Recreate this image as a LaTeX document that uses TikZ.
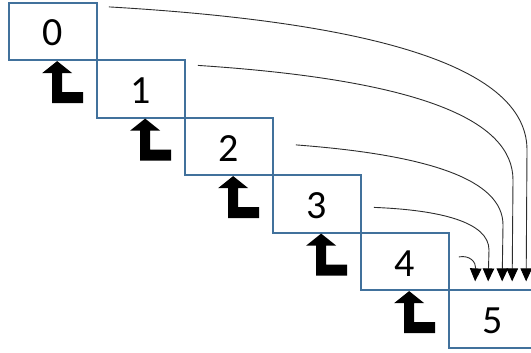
\documentclass[tikz,border=0pt]{standalone}
\usepackage{fontspec}
\setmainfont{Carlito}
\usetikzlibrary{arrows.meta,calc}
\definecolor{boxblue}{RGB}{65,113,156}
\definecolor{curvegray}{RGB}{45,45,45}
\begin{document}
\begin{tikzpicture}[x=1pt,y=-1pt,
  stepbox/.style={draw=boxblue,line width=1.7pt,minimum width=88pt,minimum height=57.5pt,
    inner sep=0pt,text height=29pt,text depth=0pt,font=\fontsize{40}{40}\selectfont},
  jump/.style={draw=curvegray,line width=0.9pt,-{Triangle[length=13pt,width=11.5pt,color=black]}},
  upL/.pic={\fill[black] (49,0) -- (64,12) -- (54,12) -- (54,31) -- (75,31) -- (75,42)
     -- (44,42) -- (44,12) -- (34,12) -- cycle;}]
\useasboundingbox (0,0) rectangle (531,353);
\node[stepbox] (b0) at (53,31.5) {0};
\node[stepbox] (b1) at (141,89) {1};
\node[stepbox] (b2) at (229,146.5) {2};
\node[stepbox] (b3) at (317,204) {3};
\node[stepbox] (b4) at (405,261.5) {4};
\node[stepbox] (b5) at (493,319) {5};
\foreach \i in {0,...,4}{\pic at (b\i.south west) {upL};}
\coordinate (s0) at ($(b0.north east)+(11,5)$);
\coordinate (s1) at ($(b1.north east)+(12,6)$);
\coordinate (s2) at ($(b2.north east)+(22,28)$);
\coordinate (s3) at ($(b3.north east)+(12,33)$);
\coordinate (s4) at ($(b4.north east)+(9,25)$);
\coordinate (e0) at ($(b5.north west)+(78,-8)$);
\coordinate (e1) at ($(b5.north west)+(64,-8)$);
\coordinate (e2) at ($(b5.north west)+(54,-8)$);
\coordinate (e3) at ($(b5.north west)+(40,-8)$);
\coordinate (e4) at ($(b5.north west)+(27,-8)$);
\draw[jump] (s0) .. controls (420,25) and (527,80) .. (527,150) -- (e0);
\draw[jump] (s1) .. controls (420,80) and (513,120) .. (513,180) -- (e1);
\draw[jump] (s2) .. controls (430,155) and (503,180) .. (503,225) -- (e2);
\draw[jump] (s3) .. controls (440,210) and (489,222) .. (489,250) -- (e3);
\draw[jump] (s4) .. controls (470,255) and (476,262) .. (e4);
\end{tikzpicture}
\end{document}
